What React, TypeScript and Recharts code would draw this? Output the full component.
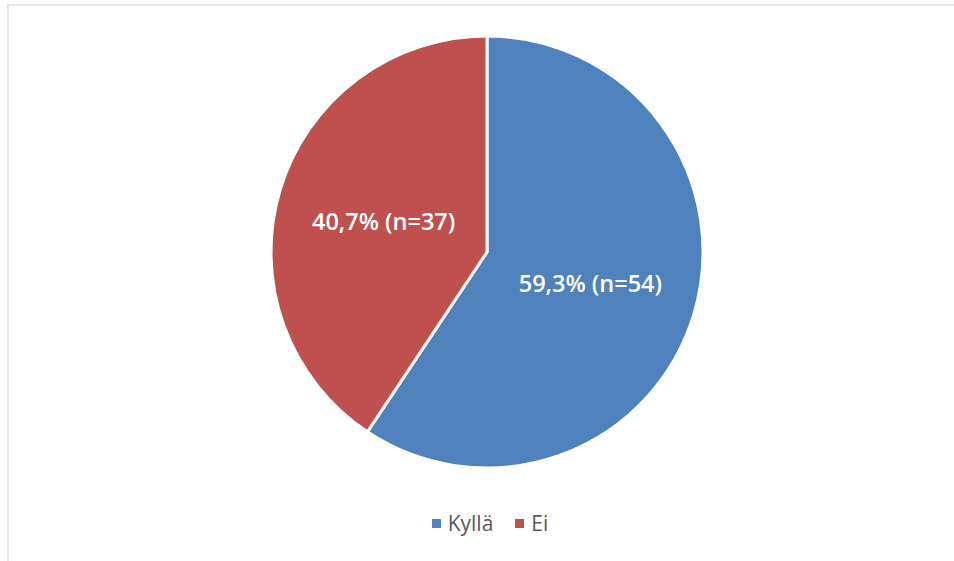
import React from "react";
import { PieChart, Pie, Cell, Legend } from "recharts";

const categories = ["Kyllä", "Ei"];
const counts = [54, 37];
const percents = ["59,3%", "40,7%"];
const colors = ["#4F81BD", "#C0504D"];

const data = categories.map((name, i) => ({
  name,
  value: counts[i],
  label: `${percents[i]} (n=${counts[i]})`,
}));

const RADIAN = Math.PI / 180;

const renderLabel = (props: any) => {
  const { cx, cy, midAngle, outerRadius, index } = props;
  const r = outerRadius * 0.5;
  const x = cx + r * Math.cos(-midAngle * RADIAN);
  const y = cy + r * Math.sin(-midAngle * RADIAN);
  return (
    <text
      x={x}
      y={y}
      fill="#ffffff"
      textAnchor="middle"
      dominantBaseline="central"
      fontFamily="'Open Sans', sans-serif"
      fontWeight={600}
      fontSize={23.5}
    >
      {data[index].label}
    </text>
  );
};

const renderLegend = () => {
  return (
    <div style={{ display: "flex", justifyContent: "center", alignItems: "center", paddingLeft: 26 }}>
      {data.map((d, i) => (
        <div key={d.name} style={{ display: "flex", alignItems: "center", marginRight: i === 0 ? 22 : 0 }}>
          <span style={{ display: "inline-block", width: 9, height: 9, background: colors[i], marginRight: 7 }} />
          <span style={{ fontFamily: "'Open Sans', sans-serif", fontSize: 21, color: "#595959", lineHeight: "26px" }}>{d.name}</span>
        </div>
      ))}
    </div>
  );
};

export default function App() {
  return (
    <div style={{ position: "absolute", left: 0, top: 0, width: 954, height: 561, background: "#fff" }}>
      <div style={{ position: "absolute", left: 7, top: 4, width: 947, height: 2, background: "#e6e6e6" }} />
      <div style={{ position: "absolute", left: 7, top: 4, width: 2, height: 557, background: "#e6e6e6" }} />
      <div style={{ position: "absolute", left: 0, top: 0 }}>
        <PieChart width={954} height={561} margin={{ top: 0, right: 0, bottom: 0, left: 0 }}>
          <Pie
            data={data}
            dataKey="value"
            nameKey="name"
            cx={487}
            cy={252}
            outerRadius={216}
            startAngle={90}
            endAngle={-270}
            stroke="#ffffff"
            strokeWidth={3}
            label={renderLabel}
            labelLine={false}
            isAnimationActive={false}
          >
            {data.map((d, i) => (
              <Cell key={d.name} fill={colors[i]} />
            ))}
          </Pie>
          <Legend
            content={renderLegend}
            wrapperStyle={{ position: "absolute", top: 510, left: 0, width: 954 }}
          />
        </PieChart>
      </div>
    </div>
  );
}
